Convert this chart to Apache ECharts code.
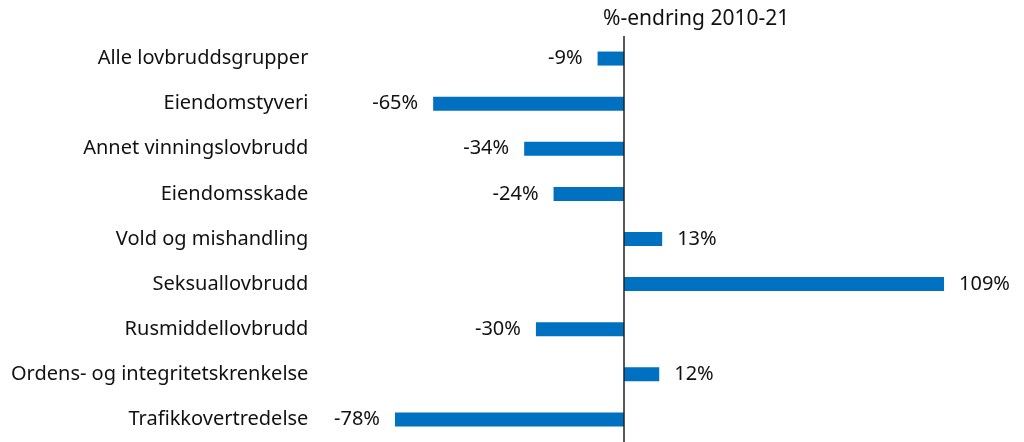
<!DOCTYPE html>
<html>
<head>
<meta charset="utf-8">
<script src="https://cdn.jsdelivr.net/npm/echarts@6/dist/echarts.min.js"></script>
<style>
html,body{margin:0;padding:0;background:#fff;}
#chart{width:1024px;height:442px;}
</style>
</head>
<body>
<div id="chart"></div>
<script>
var categories = ["Alle lovbruddsgrupper","Eiendomstyveri","Annet vinningslovbrudd","Eiendomsskade","Vold og mishandling","Seksuallovbrudd","Rusmiddellovbrudd","Ordens- og integritetskrenkelse","Trafikkovertredelse"];
var values = [-9,-65,-34,-24,13,109,-30,12,-78];
var titleText = "%-endring 2010-21";

var font = "Noto Sans";
var data = values.map(function(v){
	return {
		value:v,
		label:{position: v<0 ? 'left' : 'right'}
	};
});

var option = {
	animation:false,
	title:{
		text:titleText,
		left:598,
		top:4,
		textStyle:{fontFamily:font,fontSize:21,fontWeight:'normal',color:'#111'}
	},
	grid:{left:330.4,right:18.3,top:36,height:408},
	xAxis:{
		type:'value',
		min:-100,
		max:130,
		show:false
	},
	yAxis:{
		type:'category',
		data:categories,
		inverse:true,
		axisLine:{show:false},
		axisTick:{show:false},
		axisLabel:{fontFamily:font,fontSize:20,color:'#111',margin:22}
	},
	series:[{
		type:'bar',
		data:data,
		barWidth:14,
		itemStyle:{color:'#0070C0'},
		label:{
			show:true,
			distance:15,
			fontFamily:font,
			fontSize:20,
			color:'#111',
			formatter:function(p){return p.value+'%';}
		},
		markLine:{
			silent:true,
			symbol:'none',
			label:{show:false},
			lineStyle:{color:'#222',width:1.5,type:'solid'},
			data:[{xAxis:0}]
		}
	}]
};

var chart = echarts.init(document.getElementById('chart'));
chart.setOption(option);
</script>
</body>
</html>
